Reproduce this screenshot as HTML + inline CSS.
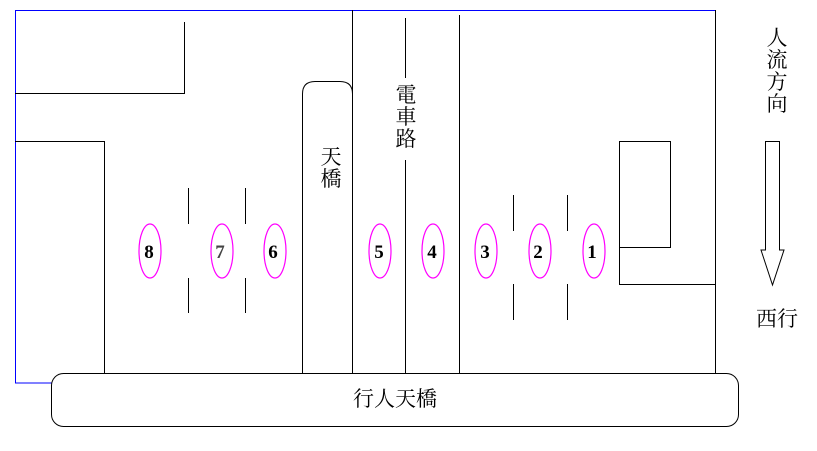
<!DOCTYPE html>
<html><head><meta charset="utf-8"><style>body{margin:0;background:#fff}svg{display:block}text{font-family:"Liberation Serif","Noto Serif CJK SC","Noto Sans CJK TC",serif}</style></head><body>
<svg width="817" height="451" viewBox="0 0 817 451" xmlns="http://www.w3.org/2000/svg">
<g fill="none" stroke-width="1">
<polyline points="52,383 15.5,383 15.5,10.5 715.5,10.5" stroke="#0000ff"/>
<line x1="715.5" y1="10" x2="715.5" y2="374" stroke="#000"/>
<g stroke="#000">
<polyline points="15,93.5 184.5,93.5 184.5,22"/>
<polyline points="15,141.5 104.5,141.5 104.5,374"/>
<line x1="352.5" y1="10" x2="352.5" y2="374"/>
<line x1="405.5" y1="18" x2="405.5" y2="78"/>
<line x1="405.5" y1="160" x2="405.5" y2="374"/>
<line x1="459.5" y1="15" x2="459.5" y2="374"/>
<path d="M302.5,374 V94 Q302.5,81.5 315,81.5 H340 Q352.5,81.5 352.5,94"/>
<polyline points="619.5,141.5 670.5,141.5 670.5,247.5 619.5,247.5"/>
<line x1="619.5" y1="141" x2="619.5" y2="284"/>
<line x1="619" y1="284.5" x2="715" y2="284.5"/>
<line x1="188.5" y1="188" x2="188.5" y2="224"/><line x1="188.5" y1="278" x2="188.5" y2="313"/>
<line x1="245.5" y1="188" x2="245.5" y2="224"/><line x1="245.5" y1="278" x2="245.5" y2="313"/>
<line x1="513.5" y1="195" x2="513.5" y2="231"/><line x1="513.5" y1="284" x2="513.5" y2="320"/>
<line x1="567.5" y1="195" x2="567.5" y2="231"/><line x1="567.5" y1="284" x2="567.5" y2="320"/>
<rect x="51.5" y="373.5" width="687" height="53" rx="12" fill="#fff"/>
<path d="M765.5,141.5 H779.5 V250 H784 L772.5,285 L761,250 H765.5 Z" fill="#fff"/>
</g>
<g stroke="#ff00ff" stroke-width="1.2">
<ellipse cx="150" cy="251" rx="11" ry="27"/><ellipse cx="222" cy="251" rx="11" ry="27"/>
<ellipse cx="275" cy="251" rx="11" ry="27"/><ellipse cx="380" cy="251" rx="11" ry="27"/>
<ellipse cx="433" cy="251" rx="11" ry="27"/><ellipse cx="486" cy="251" rx="11" ry="27"/>
<ellipse cx="540" cy="251" rx="11" ry="27"/><ellipse cx="594" cy="251" rx="11" ry="27"/>
</g>
</g>
<g font-size="19" font-weight="bold" text-anchor="middle" fill="#000">
<text x="149" y="258">8</text><text x="220" y="258" fill="#444">7</text><text x="273" y="258">6</text>
<text x="379" y="258">5</text><text x="432" y="258">4</text><text x="485" y="258">3</text>
<text x="538" y="258">2</text><text x="592" y="258">1</text>
</g>
<g font-size="21" text-anchor="middle" fill="#000">
<text x="331" y="164">天</text><text x="331" y="186">橋</text>
<text x="406" y="102">電</text><text x="406" y="124">車</text><text x="406" y="146">路</text>
<text x="777" y="45">人</text><text x="777" y="67">流</text><text x="777" y="89">方</text><text x="777" y="111">向</text>
<text x="777" y="326">西行</text>
<text x="395" y="406">行人天橋</text>
</g>
</svg>
</body></html>
